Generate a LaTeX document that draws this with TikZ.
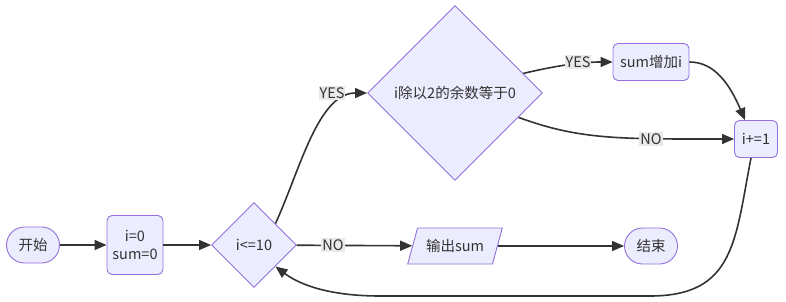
\documentclass[tikz,border=0pt]{standalone}
\usepackage{fontspec}
\setmainfont{Noto Sans CJK SC}
\usepackage{xcolor}
\usetikzlibrary{arrows.meta,positioning,shapes.geometric}
\definecolor{lilas}{RGB}{236,236,255}
\definecolor{roxo}{RGB}{147,112,219}
\definecolor{cinzaescuro}{RGB}{51,51,51}
\definecolor{cinzarotulo}{RGB}{232,232,232}
\tikzset{
  terminal/.style={rectangle,rounded corners=18pt,draw=roxo,fill=lilas,line width=0.9pt,
    minimum width=53pt,minimum height=36pt,inner sep=2pt},
  processo/.style={rectangle,rounded corners=5pt,draw=roxo,fill=lilas,line width=0.9pt,
    minimum height=37pt,inner sep=4pt,align=center},
  decisao/.style={diamond,aspect=1,draw=roxo,fill=lilas,line width=0.9pt,inner sep=0pt},
  saida/.style={trapezium,trapezium left angle=67,trapezium right angle=113,
    trapezium stretches=true,draw=roxo,fill=lilas,line width=0.9pt,
    minimum width=95pt,minimum height=36pt},
  seta/.style={-{Triangle[length=12pt,width=10pt]},line width=1.6pt,cinzaescuro},
  rotulo/.style={fill=cinzarotulo,inner sep=1pt,text=cinzaescuro}
}

\begin{document}
\begin{tikzpicture}[x=1pt,y=-1pt,font=\fontsize{14.5}{18}\selectfont,text=cinzaescuro]
\useasboundingbox (0,0) rectangle (786,302);
% nos
\node[terminal] (inicio) at (33,245) {开始};
\node[processo,minimum width=56pt,minimum height=59pt] (init) at (135,245) {i=0\\sum=0};
\node[decisao,minimum size=85pt] (cond) at (254,245) {i<=10};
\node[decisao,minimum size=175pt] (resto) at (455,93) {i除以2的余数等于0};
\node[processo,minimum width=76pt] (soma) at (651,62) {sum增加i};
\node[processo,minimum width=43pt] (incr) at (756,139) {i+=1};
\node[saida] (saida) at (455,246) {输出sum};
\node[terminal] (fim) at (651,246) {结束};
% setas
\draw[seta] (inicio) -- (init);
\draw[seta] (init) -- (cond);
\draw[seta] (cond.north east) .. controls (300,170) and (318,93) .. (resto.west);
\draw[seta] (resto.16) .. controls (555,66) and (580,62) .. (soma.west);
\draw[seta] (resto.-21) .. controls (580,140) and (620,139) .. (incr.west);
\draw[seta] (soma.east) .. controls (715,62) and (730,85) .. ([xshift=-11pt]incr.north);
\draw[seta] ([xshift=-5pt]incr.south) .. controls (735,240) and (735,296) .. (650,296)
  -- (380,296) .. controls (330,296) and (300,285) .. (cond.south east);
\draw[seta] (cond) -- (saida);
\draw[seta] (saida) -- (fim);
% rotulos
\node[rotulo] (simA) at (332,93) {YES};
\node[rotulo] (simB) at (578,62) {YES};
\node[rotulo] (naoA) at (651,139) {NO};
\node[rotulo] (naoB) at (333,245) {NO};
\end{tikzpicture}
\end{document}
